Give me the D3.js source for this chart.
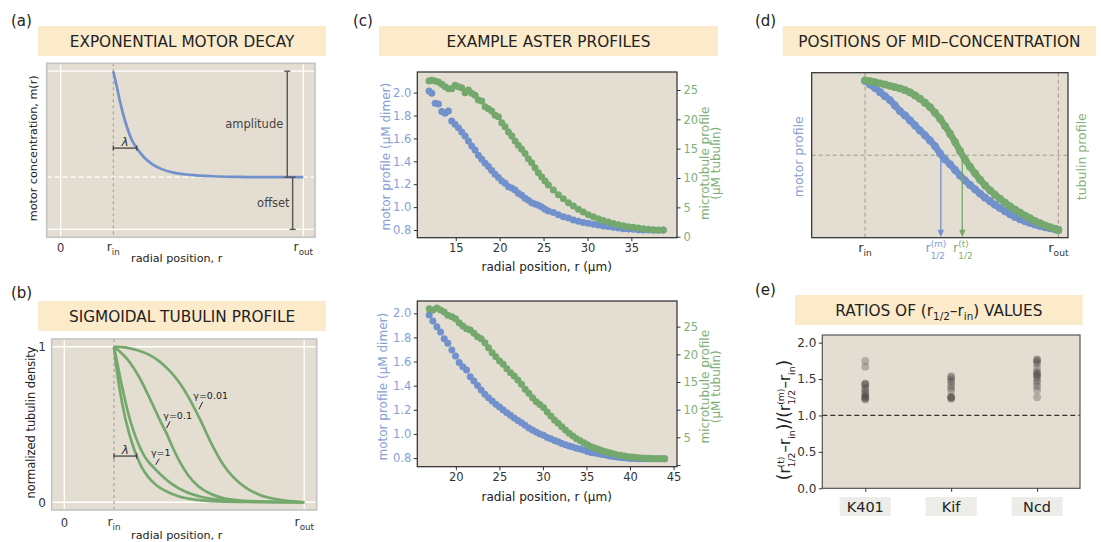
<!DOCTYPE html>
<html><head><meta charset="utf-8">
<script src="https://cdn.jsdelivr.net/npm/d3@7"></script>
<style>
body{margin:0;background:#fff;}
svg{display:block;font-family:"DejaVu Sans",sans-serif;}
</style></head><body>
<svg id="c" width="1101" height="542"></svg>
<script>
// ---------------- DATA ----------------
// (a) exponential motor decay (normalized units)
const aR = [1.0,1.065,1.127,1.190,1.266,1.350,1.445,1.570,1.730,1.920,2.141,2.458,2.901,3.409,4.042,4.612];
const aM = [1.0,0.905,0.810,0.725,0.641,0.567,0.514,0.461,0.414,0.381,0.359,0.345,0.336,0.332,0.330,0.330];
const aRin = 1.0, aRout = 4.612, aOffset = 0.33, aLambda = 0.445, aLambdaY = 0.514;
const aAmpX = 4.308, aOffX = 4.41;

// (b) sigmoidal tubulin profiles
const bRin = 1.0, bRout = 4.829, bLambda = 0.456, bLambdaY = 0.297;
const bExpX = [1.0,1.047,1.101,1.154,1.221,1.288,1.369,1.456,1.557,1.691,1.858,2.060,2.295,2.630,3.099,3.770,4.829];
const bExpY = [1.0,0.871,0.753,0.656,0.548,0.462,0.376,0.297,0.226,0.161,0.108,0.069,0.039,0.017,0.006,0.002,0.0];
const bG1X = [1.0,1.060,1.128,1.208,1.288,1.389,1.503,1.624,1.791,1.959,2.161,2.429,2.764,3.233,3.904,4.829];
const bG1Y = [1.0,0.903,0.796,0.678,0.570,0.462,0.366,0.290,0.226,0.172,0.118,0.069,0.034,0.013,0.002,0.0];
const bG01X = [1.0,1.121,1.255,1.389,1.523,1.657,1.791,1.926,2.060,2.194,2.328,2.496,2.697,2.932,3.233,3.636,4.172,4.829];
const bG01Y = [1.0,0.968,0.925,0.867,0.796,0.710,0.620,0.527,0.441,0.344,0.258,0.172,0.103,0.056,0.024,0.009,0.002,0.0];
const bG001X = [1.0,1.221,1.456,1.691,1.926,2.127,2.328,2.496,2.630,2.764,2.898,3.032,3.200,3.401,3.636,3.937,4.307,4.829];
const bG001Y = [1.0,0.996,0.979,0.951,0.903,0.843,0.764,0.678,0.598,0.512,0.419,0.333,0.241,0.161,0.097,0.047,0.017,0.0];
const bLabels = ["γ=0.01","γ=0.1","γ=1"];

// (c) example aster profiles, top
const c1R = [11.96,12.27,12.65,13.03,13.41,13.79,14.17,14.54,14.92,15.30,15.68,16.06,16.44,16.82,17.20,17.58,17.96,18.34,18.72,19.10,
  19.48,19.86,20.24,20.62,21.00,21.38,21.76,22.13,22.51,22.89,23.27,23.65,24.03,24.41,24.79,25.17,25.55,26.12,26.69,27.26,
  27.83,28.40,28.97,29.53,30.10,30.67,31.24,31.81,32.38,32.95,33.52,34.09,34.66,35.23,35.80,36.37,36.94,37.50,38.07,38.64];
const c1Motor = [2.015,1.994,1.907,1.901,1.834,1.820,1.840,1.753,1.723,1.694,1.656,1.622,1.578,1.534,1.499,1.453,1.418,1.383,1.354,1.319,
  1.287,1.258,1.229,1.208,1.179,1.167,1.150,1.121,1.103,1.077,1.060,1.039,1.028,1.016,1.001,0.981,0.967,0.952,0.934,0.917,
  0.905,0.888,0.876,0.865,0.859,0.850,0.844,0.836,0.830,0.824,0.818,0.812,0.809,0.806,0.803,0.801,0.801,0.798,0.798,0.801];
const c1Tub = [26.53,26.65,26.53,26.36,25.97,25.57,25.23,25.23,25.80,25.57,25.40,24.55,25.00,24.43,24.09,23.30,23.13,22.16,21.82,21.42,
  20.68,20.45,19.43,18.75,17.84,17.16,16.31,15.57,14.89,14.20,13.30,12.61,11.76,10.91,10.17,9.49,8.81,7.95,7.16,6.48,
  5.80,5.23,4.66,4.20,3.75,3.41,3.07,2.78,2.50,2.27,2.05,1.88,1.70,1.59,1.48,1.36,1.25,1.19,1.14,1.14];
const c1XTicks = [15,20,25,30,35];
const c1RTicks = [0,5,10,15,20,25];

// (c) bottom
const c2R = [16.94,17.36,17.82,18.24,18.66,19.08,19.54,19.96,20.38,20.80,21.23,21.65,22.07,22.49,22.91,23.33,23.75,24.17,24.59,25.02,
  25.44,25.86,26.28,26.70,27.12,27.54,27.96,28.38,28.81,29.23,29.65,30.07,30.49,30.91,31.33,31.75,32.17,32.59,33.02,33.44,
  33.86,34.28,34.70,35.12,35.54,35.96,36.39,36.81,37.23,37.65,38.07,38.49,38.91,39.33,39.75,40.18,40.60,41.02,41.44,41.86,
  42.28,42.70,43.12,43.54,43.97];
const c2Motor = [1.986,1.936,1.889,1.845,1.790,1.751,1.696,1.646,1.591,1.557,1.530,1.474,1.438,1.402,1.364,1.328,1.300,1.272,1.245,1.223,
  1.198,1.176,1.154,1.131,1.112,1.093,1.071,1.048,1.032,1.015,0.999,0.988,0.971,0.960,0.946,0.935,0.921,0.910,0.899,0.891,
  0.882,0.874,0.866,0.855,0.846,0.841,0.835,0.830,0.824,0.816,0.813,0.808,0.805,0.802,0.799,0.797,0.797,0.794,0.794,0.794,
  0.794,0.794,0.794,0.794,0.794];
const c2Tub = [28.25,28.01,28.37,28.01,27.65,27.05,26.81,26.45,25.72,25.12,24.64,24.40,23.80,23.19,22.83,22.11,21.20,20.30,19.58,18.80,
  18.19,17.41,16.69,16.08,15.36,14.58,13.67,12.95,12.17,11.45,10.95,10.40,9.58,8.86,8.13,7.53,6.93,6.33,5.72,5.24,
  4.76,4.40,4.04,3.67,3.31,3.07,2.83,2.59,2.41,2.23,2.05,1.87,1.75,1.63,1.51,1.45,1.39,1.33,1.27,1.20,
  1.20,1.14,1.14,1.14,1.14];
const c2XTicks = [20,25,30,35,40,45];
const c2RTicks = [5,10,15,20,25];
const cLTicks = [0.8,1.0,1.2,1.4,1.6,1.8,2.0];

// (d) normalized profiles, r_in = 0, r_out = 1
const dX = [0,0.026,0.052,0.078,0.103,0.129,0.155,0.181,0.207,0.233,0.259,0.284,0.310,0.336,0.362,0.388,0.414,0.440,0.466,0.491,
  0.517,0.543,0.569,0.595,0.621,0.647,0.672,0.698,0.724,0.750,0.776,0.802,0.828,0.853,0.879,0.905,0.931,0.957,0.983,1.0];
const dMotor = [0.996,0.973,0.949,0.922,0.895,0.869,0.833,0.795,0.766,0.733,0.699,0.666,0.633,0.599,0.561,0.512,0.472,0.439,0.401,0.365,
  0.332,0.301,0.272,0.243,0.216,0.192,0.169,0.147,0.125,0.105,0.087,0.071,0.058,0.047,0.036,0.027,0.018,0.011,0.004,0.0];
const dTub = [1.0,0.996,0.989,0.980,0.973,0.964,0.955,0.947,0.935,0.920,0.900,0.878,0.851,0.822,0.784,0.744,0.695,0.644,0.588,0.528,
  0.472,0.423,0.379,0.336,0.298,0.265,0.236,0.209,0.183,0.158,0.136,0.116,0.096,0.078,0.060,0.045,0.031,0.018,0.009,0.0];
const dHalfM = 0.392, dHalfT = 0.503;

// (e) ratios
const eCats = ["K401","Kif","Ncd"];
const eK401 = [1.75,1.67,1.44,1.43,1.42,1.38,1.35,1.32,1.30,1.27,1.25,1.25,1.23,1.22];
const eKif = [1.54,1.52,1.49,1.46,1.42,1.38,1.34,1.26,1.25,1.24,1.23];
const eNcd = [1.77,1.76,1.74,1.71,1.65,1.60,1.58,1.56,1.55,1.52,1.48,1.45,1.40,1.35,1.25];
const eYTicks = [0.0,0.5,1.0,1.5,2.0];

// ---------------- STYLE ----------------
const BG = '#e4ded2', TITLEBG = '#fcebcb';
const BLUE = '#7191cc', GREEN = '#74a86d';
const BLUE_T = '#86a0d6', GREEN_T = '#80b078';
const svg = d3.select('#c');

function txt(g, x, y, s, o = {}) {
  const t = g.append('text').attr('x', x).attr('y', y).text(s)
    .style('font-size', (o.size || 11) + 'px').attr('fill', o.color || '#222')
    .attr('text-anchor', o.anchor || 'middle');
  if (o.rotate) t.attr('transform', `rotate(${o.rotate},${x},${y})`);
  if (o.italic) t.style('font-style', 'italic');
  return t;
}
// math-like label built from pieces
function math(parent, x, y, parts, size, color, o = {}) {
  const outer = parent.append('g').attr('transform', `translate(${x},${y})` + (o.rotate ? ` rotate(${o.rotate})` : ''));
  const g = outer.append('g').attr('fill', color);
  let cx = 0;
  const ss = size * (o.small || 0.7);
  for (const p of parts) {
    if (typeof p === 'string' || p.t) {
      const s = typeof p === 'string' ? p : p.t;
      const fs = (p.scale || 1) * size;
      const t = g.append('text').attr('x', cx).attr('y', p.dy || 0).style('font-size', fs + 'px').text(s);
      cx += t.node().getComputedTextLength();
    } else {
      let w = 0;
      if (p.sup != null) {
        const t = g.append('text').attr('x', cx).attr('y', -size * (o.supShift || 0.42)).style('font-size', ss + 'px').text(p.sup);
        w = Math.max(w, t.node().getComputedTextLength());
      }
      if (p.sub != null) {
        const t = g.append('text').attr('x', cx).attr('y', size * (o.subShift || 0.32)).style('font-size', ss + 'px').text(p.sub);
        w = Math.max(w, t.node().getComputedTextLength());
      }
      cx += w + (p.gap || 0);
    }
  }
  const anchor = o.anchor || 'middle';
  const off = anchor === 'middle' ? -cx / 2 : anchor === 'end' ? -cx : 0;
  g.attr('transform', `translate(${off},0)`);
  return outer;
}
function titleBox(x0, x1, y0, y1, content) {
  svg.append('rect').attr('x', x0).attr('y', y0).attr('width', x1 - x0).attr('height', y1 - y0).attr('fill', TITLEBG);
  if (typeof content === 'string') txt(svg, (x0 + x1) / 2, y0 + 20.7, content, { size: 15.3, color: '#222' });
  else math(svg, (x0 + x1) / 2, y0 + 20.7, content, 15.3, '#222', { small: 0.68, subShift: 0.3 });
}
function panelLabel(x, y, s) { txt(svg, x, y, s, { size: 15, anchor: 'start', color: '#222' }); }
function hline(g, x1, x2, y, stroke, w, dash) {
  const l = g.append('line').attr('x1', x1).attr('x2', x2).attr('y1', y).attr('y2', y).attr('stroke', stroke).attr('stroke-width', w);
  if (dash) l.attr('stroke-dasharray', dash); return l;
}
function vline(g, x, y1, y2, stroke, w, dash) {
  const l = g.append('line').attr('x1', x).attr('x2', x).attr('y1', y1).attr('y2', y2).attr('stroke', stroke).attr('stroke-width', w);
  if (dash) l.attr('stroke-dasharray', dash); return l;
}
function styleAxis(g, color, size) {
  g.attr('font-family', null).attr('font-size', null);
  g.select('.domain').remove();
  g.selectAll('.tick line').attr('stroke', '#333').attr('stroke-width', 1);
  g.selectAll('.tick text').attr('fill', color).style('font-size', size + 'px');
}

// ---------------- PANEL (a) ----------------
panelLabel(11, 26, '(a)');
titleBox(38, 326, 26, 56, 'EXPONENTIAL MOTOR DECAY');
{
  const g = svg.append('g');
  const X0 = 46.7, X1 = 315, Y0 = 63.3, Y1 = 237.3;
  const x = d3.scaleLinear().domain([-0.266, 4.835]).range([X0, X1]);
  const y = d3.scaleLinear().domain([-0.05, 1.05]).range([Y1, Y0]);
  g.append('rect').attr('x', X0).attr('y', Y0).attr('width', X1 - X0).attr('height', Y1 - Y0).attr('fill', BG);
  [0, 1].forEach(v => hline(g, X0, X1, y(v), '#fff', 1.3));
  [0, aRout].forEach(v => vline(g, x(v), Y0, Y1, '#fff', 1.3));
  hline(g, X0, X1, y(aOffset), '#fff', 1.2, '5,3');
  vline(g, x(aRin), Y0, Y1, '#9d978d', 1, '3,3');
  g.append('path').datum(d3.zip(aR, aM))
    .attr('d', d3.line().x(d => x(d[0])).y(d => y(d[1])).curve(d3.curveMonotoneX))
    .attr('fill', 'none').attr('stroke', BLUE).attr('stroke-width', 2.7);
  // lambda bar
  const ly = y(aLambdaY);
  hline(g, x(aRin), x(aRin + aLambda), ly, '#444', 1.3);
  vline(g, x(aRin), ly - 2.5, ly + 2.5, '#444', 1.3);
  vline(g, x(aRin + aLambda), ly - 2.5, ly + 2.5, '#444', 1.3);
  txt(g, (x(aRin) + x(aRin + aLambda)) / 2, ly - 2.5, 'λ', { size: 12, italic: true, color: '#333' });
  // amplitude / offset bars
  vline(g, x(aAmpX), y(1), y(aOffset), '#555', 1.4);
  hline(g, x(aAmpX) - 3, x(aAmpX) + 3, y(1), '#555', 1.4);
  hline(g, x(aAmpX) - 3, x(aAmpX) + 3, y(aOffset), '#555', 1.4);
  vline(g, x(aOffX), y(aOffset), y(0), '#555', 1.4);
  hline(g, x(aOffX) - 3, x(aOffX) + 3, y(aOffset), '#555', 1.4);
  hline(g, x(aOffX) - 3, x(aOffX) + 3, y(0), '#555', 1.4);
  txt(g, x(aAmpX) - 4, y((1 + aOffset) / 2) + 4, 'amplitude', { size: 11.5, anchor: 'end', color: '#444' });
  txt(g, x(aOffX) - 3, y(aOffset / 2) + 4, 'offset', { size: 11.5, anchor: 'end', color: '#444' });
  g.append('rect').attr('x', X0).attr('y', Y0).attr('width', X1 - X0).attr('height', Y1 - Y0)
    .attr('fill', 'none').attr('stroke', '#c4c4c4').attr('stroke-width', 1.6);
  // ticks
  txt(g, x(0), 252, '0', { size: 11.5, color: '#333' });
  math(g, x(aRin), 251, ['r', { sub: 'in' }], 12.5, '#333');
  math(g, x(aRout), 251, ['r', { sub: 'out' }], 12.5, '#333');
  txt(g, 176.7, 261.5, 'radial position, r', { size: 11.2, color: '#222' });
  txt(g, 37, 148.3, 'motor concentration, m(r)', { size: 11.2, rotate: -90, color: '#222' });
}

// ---------------- PANEL (b) ----------------
panelLabel(11, 298, '(b)');
titleBox(38, 326, 301, 331, 'SIGMOIDAL TUBULIN PROFILE');
{
  const g = svg.append('g');
  const X0 = 51.7, X1 = 316.7, Y0 = 339, Y1 = 510;
  const x = d3.scaleLinear().domain([-0.254, 5.08]).range([X0, X1]);
  const y = d3.scaleLinear().domain([-0.05, 1.05]).range([Y1, Y0]);
  g.append('rect').attr('x', X0).attr('y', Y0).attr('width', X1 - X0).attr('height', Y1 - Y0).attr('fill', BG);
  [0, 1].forEach(v => hline(g, X0, X1, y(v), '#fff', 1.3));
  [0, bRout].forEach(v => vline(g, x(v), Y0, Y1, '#fff', 1.3));
  vline(g, x(bRin), Y0, Y1, '#9d978d', 1, '3,3');
  const line = d3.line().x(d => x(d[0])).y(d => y(d[1])).curve(d3.curveMonotoneX);
  [[bExpX, bExpY], [bG1X, bG1Y], [bG01X, bG01Y], [bG001X, bG001Y]].forEach(([xs, ys]) => {
    g.append('path').datum(d3.zip(xs, ys)).attr('d', line)
      .attr('fill', 'none').attr('stroke', GREEN).attr('stroke-width', 2.7);
  });
  // lambda bar
  const ly = y(bLambdaY);
  hline(g, x(bRin), x(bRin + bLambda), ly, '#444', 1.3);
  vline(g, x(bRin), ly - 2.5, ly + 2.5, '#444', 1.3);
  vline(g, x(bRin + bLambda), ly - 2.5, ly + 2.5, '#444', 1.3);
  txt(g, (x(bRin) + x(bRin + bLambda)) / 2, ly - 2.5, 'λ', { size: 12, italic: true, color: '#333' });
  // gamma labels
  const ann = [
    { s: bLabels[0], tx: 2.596, ty: 0.663, p: [2.783, 0.645, 2.710, 0.598] },
    { s: bLabels[1], tx: 1.992, ty: 0.534, p: [2.127, 0.521, 2.060, 0.477] },
    { s: bLabels[2], tx: 1.744, ty: 0.298, p: [1.911, 0.280, 1.839, 0.241] }
  ];
  ann.forEach(a => {
    txt(g, x(a.tx), y(a.ty), a.s, { size: 9.5, anchor: 'start', color: '#222' });
    g.append('line').attr('x1', x(a.p[0])).attr('y1', y(a.p[1])).attr('x2', x(a.p[2])).attr('y2', y(a.p[3]))
      .attr('stroke', '#222').attr('stroke-width', 1);
  });
  g.append('rect').attr('x', X0).attr('y', Y0).attr('width', X1 - X0).attr('height', Y1 - Y0)
    .attr('fill', 'none').attr('stroke', '#c4c4c4').attr('stroke-width', 1.6);
  txt(g, 46, y(1) + 4.5, '1', { size: 12, anchor: 'end', color: '#333' });
  txt(g, 46, y(0) + 4.5, '0', { size: 12, anchor: 'end', color: '#333' });
  txt(g, x(0), 527, '0', { size: 11.5, color: '#333' });
  math(g, x(bRin), 526, ['r', { sub: 'in' }], 12.5, '#333');
  math(g, x(bRout), 526, ['r', { sub: 'out' }], 12.5, '#333');
  txt(g, 176.7, 538.5, 'radial position, r', { size: 11.2, color: '#222' });
  txt(g, 35, 422.5, 'normalized tubulin density', { size: 11.4, rotate: -90, color: '#222' });
}

// ---------------- PANEL (c) ----------------
panelLabel(353, 26, '(c)');
titleBox(379, 718, 26, 56, 'EXAMPLE ASTER PROFILES');
function asterPanel(X0, X1, Y0, Y1, xd, yLd, yRd, R, M, T, xticks, rticks, rLabelTicks) {
  const g = svg.append('g');
  const x = d3.scaleLinear().domain(xd).range([X0, X1]);
  const yL = d3.scaleLinear().domain(yLd).range([Y1, Y0]);
  const yR = d3.scaleLinear().domain(yRd).range([Y1, Y0]);
  g.append('rect').attr('x', X0).attr('y', Y0).attr('width', X1 - X0).attr('height', Y1 - Y0).attr('fill', BG);
  g.append('g').selectAll('circle').data(d3.zip(R, M)).join('circle')
    .attr('cx', d => x(d[0])).attr('cy', d => yL(d[1])).attr('r', 3.5).attr('fill', BLUE);
  g.append('g').selectAll('circle').data(d3.zip(R, T)).join('circle')
    .attr('cx', d => x(d[0])).attr('cy', d => yR(d[1])).attr('r', 3.5).attr('fill', GREEN);
  g.append('rect').attr('x', X0).attr('y', Y0).attr('width', X1 - X0).attr('height', Y1 - Y0)
    .attr('fill', 'none').attr('stroke', '#2a2a2a').attr('stroke-width', 1.2);
  const ax = g.append('g').attr('transform', `translate(0,${Y1})`)
    .call(d3.axisBottom(x).tickValues(xticks).tickFormat(d3.format('d')).tickSize(3.5).tickPadding(2.5));
  styleAxis(ax, '#333', 11.5);
  const al = g.append('g').attr('transform', `translate(${X0},0)`)
    .call(d3.axisLeft(yL).tickValues(cLTicks).tickFormat(d3.format('.1f')).tickSize(3.5).tickPadding(2.5));
  styleAxis(al, BLUE_T, 11.5);
  const ar = g.append('g').attr('transform', `translate(${X1},0)`)
    .call(d3.axisRight(yR).tickValues(rticks).tickFormat(d => rLabelTicks.includes(d) ? d : '').tickSize(3.5).tickPadding(3));
  styleAxis(ar, GREEN_T, 11.5);
  return { g, x, yL, yR };
}
{
  asterPanel(417.3, 677, 72, 237.7, [10.62, 40.2], [0.733, 2.18], [-0.17, 28.07],
    c1R, c1Motor, c1Tub, c1XTicks, c1RTicks, c1RTicks);
  txt(svg, 546.7, 270.5, 'radial position, r (µm)', { size: 12, color: '#222' });
  txt(svg, 390.5, 156.7, 'motor profile (µM dimer)', { size: 12, rotate: -90, color: BLUE_T });
  txt(svg, 709, 163.3, 'microtubule profile', { size: 12, rotate: -90, color: GREEN_T });
  txt(svg, 720.5, 163.3, '(µM tubulin)', { size: 12, rotate: -90, color: GREEN_T });

  asterPanel(417.3, 677, 301, 466.7, [15.57, 45.4], [0.728, 2.102], [-0.31, 29.64],
    c2R, c2Motor, c2Tub, c2XTicks, [0].concat(c2RTicks), c2RTicks);
  txt(svg, 546.7, 500.5, 'radial position, r (µm)', { size: 12, color: '#222' });
  txt(svg, 387.5, 386.7, 'motor profile (µM dimer)', { size: 12, rotate: -90, color: BLUE_T });
  txt(svg, 709, 386.7, 'microtubule profile', { size: 12, rotate: -90, color: GREEN_T });
  txt(svg, 720.5, 386.7, '(µM tubulin)', { size: 12, rotate: -90, color: GREEN_T });
}

// ---------------- PANEL (d) ----------------
panelLabel(755, 26, '(d)');
titleBox(782.7, 1096, 26, 56, 'POSITIONS OF MID–CONCENTRATION');
{
  const g = svg.append('g');
  const X0 = 811.7, X1 = 1068, Y0 = 72.7, Y1 = 237.7;
  const x = d3.scaleLinear().domain([-0.276, 1.05]).range([X0, X1]);
  const y = d3.scaleLinear().domain([-0.052, 1.052]).range([Y1, Y0]);
  g.append('rect').attr('x', X0).attr('y', Y0).attr('width', X1 - X0).attr('height', Y1 - Y0).attr('fill', BG);
  vline(g, x(0), Y0, Y1, '#9d978d', 1, '4,3');
  vline(g, x(1), Y0, Y1, '#9d978d', 1, '4,3');
  hline(g, X0, X1, y(0.5), '#9d978d', 1, '4,3');
  const line = d3.line().x(d => x(d[0])).y(d => y(d[1])).curve(d3.curveMonotoneX);
  [[dMotor, BLUE], [dTub, GREEN]].forEach(([ys, col]) => {
    g.append('path').datum(d3.zip(dX, ys)).attr('d', line).attr('fill', 'none')
      .attr('stroke', col).attr('stroke-width', 6.6).attr('stroke-linecap', 'round');
    g.append('g').selectAll('circle').data(d3.zip(dX, ys)).join('circle')
      .attr('cx', d => x(d[0])).attr('cy', d => y(d[1])).attr('r', 3.9).attr('fill', col);
  });
  // arrows
  [[dHalfM, BLUE], [dHalfT, GREEN]].forEach(([v, col]) => {
    const xx = x(v);
    vline(g, xx, y(0.5), Y1 - 6, col, 1.3);
    g.append('path').attr('d', `M${xx - 3.2},${Y1 - 8}L${xx + 3.2},${Y1 - 8}L${xx},${Y1 - 0.5}Z`).attr('fill', col);
  });
  g.append('rect').attr('x', X0).attr('y', Y0).attr('width', X1 - X0).attr('height', Y1 - Y0)
    .attr('fill', 'none').attr('stroke', '#2a2a2a').attr('stroke-width', 1.2);
  math(g, x(0), 252, ['r', { sub: 'in' }], 13, '#333');
  math(g, x(1), 252, ['r', { sub: 'out' }], 13, '#333');
  math(g, x(dHalfM) - 5, 252, ['r', { sup: '(m)', sub: '1/2' }], 13, '#7f9ad2', { small: 0.68, supShift: 0.4, subShift: 0.55 });
  math(g, x(dHalfT) + 0.5, 252, ['r', { sup: '(t)', sub: '1/2' }], 13, GREEN_T, { small: 0.68, supShift: 0.4, subShift: 0.55 });
  txt(g, 803.5, 156.7, 'motor profile', { size: 12.5, rotate: -90, color: BLUE_T });
  txt(g, 1086, 156.7, 'tubulin profile', { size: 12.5, rotate: -90, color: GREEN_T });
}

// ---------------- PANEL (e) ----------------
panelLabel(755, 295, '(e)');
titleBox(795, 1082.7, 295, 325, ['RATIOS OF (r', { sub: '1/2' }, '–r', { sub: 'in' }, ') VALUES']);
{
  const g = svg.append('g');
  const X0 = 822.3, X1 = 1080, Y0 = 335, Y1 = 488.3;
  const x = d3.scaleLinear().domain([-0.5, 2.5]).range([X0, X1]);
  const y = d3.scaleLinear().domain([0, 2.105]).range([Y1, Y0]);
  g.append('rect').attr('x', X0).attr('y', Y0).attr('width', X1 - X0).attr('height', Y1 - Y0).attr('fill', BG);
  hline(g, X0, X1, y(1.0), '#333', 1.2, '5,3');
  [eK401, eKif, eNcd].forEach((vals, i) => {
    g.append('g').selectAll('circle').data(vals).join('circle')
      .attr('cx', x(i)).attr('cy', d => y(d)).attr('r', 3.9)
      .attr('fill', '#4a4744').attr('fill-opacity', 0.33);
  });
  g.append('rect').attr('x', X0).attr('y', Y0).attr('width', X1 - X0).attr('height', Y1 - Y0)
    .attr('fill', 'none').attr('stroke', '#555').attr('stroke-width', 1.2);
  const al = g.append('g').attr('transform', `translate(${X0},0)`)
    .call(d3.axisLeft(y).tickValues(eYTicks).tickFormat(d3.format('.1f')).tickSize(3.5).tickPadding(2.5));
  styleAxis(al, '#333', 12);
  const ab = g.append('g').attr('transform', `translate(0,${Y1})`)
    .call(d3.axisBottom(x).tickValues([0, 1, 2]).tickFormat('').tickSize(3.5));
  styleAxis(ab, '#333', 12);
  eCats.forEach((c, i) => {
    g.append('rect').attr('x', x(i) - 25.5).attr('y', 497).attr('width', 51).attr('height', 19).attr('fill', '#ecece9');
    txt(g, x(i), 511.7, c, { size: 14.5, color: '#222' });
  });
  math(g, 790, 420, [{ t: '(', scale: 1.15 }, 'r', { sup: '(t)', sub: '1/2' }, '–r', { sub: 'in' }, { t: ')', scale: 1.15 },
    { t: '/', scale: 1.15 }, { t: '(', scale: 1.15 }, 'r', { sup: '(m)', sub: '1/2' }, '–r', { sub: 'in' }, { t: ')', scale: 1.15 }],
    15, '#222', { rotate: -90, small: 0.62, supShift: 0.42, subShift: 0.32 });
}
</script></body></html>
